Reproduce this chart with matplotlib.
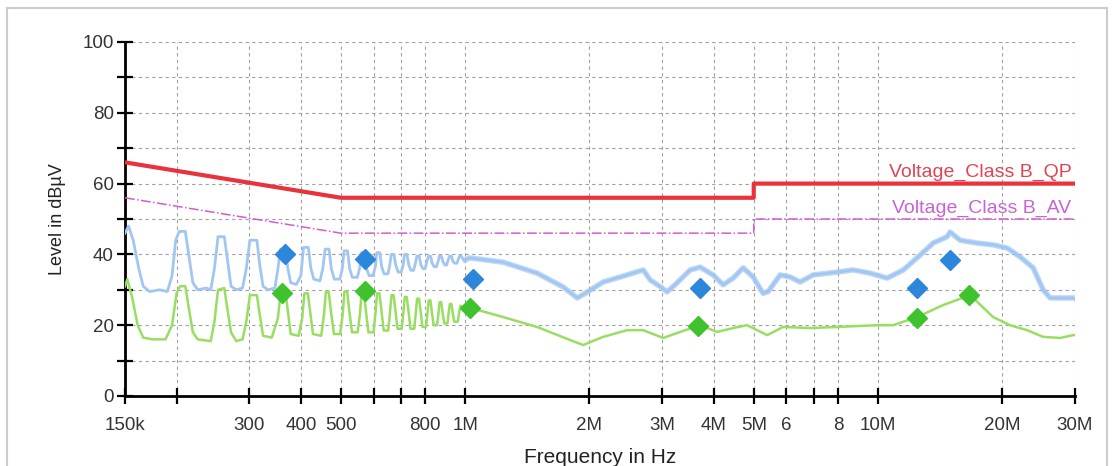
import numpy as np
import matplotlib.pyplot as plt
from matplotlib.patches import Rectangle
from matplotlib.ticker import FixedLocator, NullLocator

plt.rcParams['font.family'] = ['Liberation Sans', 'DejaVu Sans']

# limit lines (Hz, dBuV)
qp_f = [150e3, 500e3, 5e6, 5e6, 30e6]
qp_db = [66, 56, 56, 60, 60]
av_f = [150e3, 500e3, 5e6, 5e6, 30e6]
av_db = [56, 46, 46, 50, 50]

# peak trace (kHz, dBuV)
blue_f = [150, 153, 157, 162, 166, 172, 182, 190, 195, 199, 203, 210, 214, 219, 225,
          236, 242, 247, 252, 261, 266, 271, 279, 289, 295, 301, 313, 318, 324, 333,
          346, 352, 357, 367, 372, 378, 390, 400, 406, 417, 423, 430, 445, 452, 458,
          468, 474, 482, 497, 504, 509, 519, 525, 533, 548, 555, 560, 570, 577, 585,
          598, 606, 611, 621, 628, 636, 650, 657, 662, 672, 679, 688, 700, 708, 713,
          723, 730, 739, 750, 758, 764, 774, 781, 790, 800, 808, 815, 825, 832, 842,
          852, 860, 866, 876, 883, 893, 902, 910, 917, 927, 934, 944, 955, 962, 968,
          978, 990, 1000, 1028, 1236, 1494, 1727, 1868, 1953, 2159, 2374, 2699, 2806,
          3000, 3085, 3262, 3507, 3708, 3987, 4216, 4458, 4713, 4984, 5269, 5418, 5794,
          6126, 6477, 6965, 7962, 8705, 9571, 10520, 11510, 12650, 13600, 14700, 14950,
          15810, 17380, 19000, 20550, 22090, 23760, 25120, 26120, 29690, 30000]
blue_db = [46, 48, 44, 36, 31, 29.5, 30, 29.5, 34, 44, 46.5, 46.5, 40, 32, 30,
           30.5, 30, 36, 45, 45, 38, 31, 30, 30.5, 36, 44, 44, 37, 31, 30,
           30.5, 36, 41.5, 41.5, 36, 32, 31.5, 34, 42, 42, 36, 33, 32.5, 36, 41.5,
           41.5, 36, 33, 33, 36, 41, 41, 36, 33.5, 33.5, 36, 40.5, 40.5, 36, 34,
           34, 36.5, 40.5, 40.5, 36.5, 34.5, 34.5, 37, 40, 40, 37, 35, 35, 37, 40,
           40, 37, 35.5, 35.5, 37.5, 39.5, 39.5, 37, 36, 36, 38, 39.5, 39.5, 37.5, 36.5,
           36.5, 38, 39.5, 39.5, 38, 37, 37, 38.5, 39.5, 39.5, 38, 37.5, 37.5, 38.5, 39.5,
           39.5, 38.5, 38.5, 39, 37.8, 34.7, 30.8, 27.7, 29, 32.2, 33.6, 35.6, 32.8,
           30.5, 29.4, 32, 35.6, 36.4, 34.2, 31.4, 33.3, 36.2, 33.6, 29, 29.5, 34.2,
           33.6, 32.2, 34.2, 35, 35.6, 34.7, 33.3, 35.6, 39.8, 43.2, 45, 46.3,
           44, 43.2, 42.7, 41.8, 39.3, 36.2, 30, 27.7, 27.7, 27.5]

# average trace (kHz, dBuV)
green_f = [150, 152, 156, 161, 166, 175, 188, 195, 200, 204, 210, 214, 219, 225, 242,
           247, 252, 261, 266, 271, 279, 289, 295, 301, 313, 318, 324, 340, 352, 357,
           367, 372, 378, 395, 403, 408, 416, 421, 428, 448, 455, 460, 467, 473, 481,
           498, 505, 510, 518, 524, 532, 549, 556, 561, 569, 575, 583, 600, 607, 612,
           620, 627, 635, 651, 658, 663, 671, 678, 686, 702, 709, 714, 722, 729, 737,
           753, 760, 765, 773, 780, 788, 804, 811, 816, 824, 831, 839, 855, 862, 867,
           875, 882, 890, 906, 913, 918, 926, 933, 941, 960, 968, 975, 990, 1028, 1236,
           1494, 1796, 1931, 2159, 2468, 2699, 3017, 3317, 3708, 4077, 4458, 4820, 5096,
           5388, 5892, 6849, 7962, 9952, 10880, 12440, 14380, 16720, 19000, 20890,
           22970, 25120, 27620, 29690, 30000]
green_db = [31, 33, 28, 20, 16.5, 16, 16, 20, 29, 31, 31, 25, 18, 16, 15.5,
            21, 30, 30.5, 24, 18, 15.5, 16, 21, 28.5, 28.5, 23, 17, 16.5, 22, 29,
            29.5, 24, 17.5, 17, 22, 29, 29, 24, 17.5, 17, 23, 29.5, 29.5, 24, 17.5,
            17.5, 23, 29.5, 29.5, 24, 18, 18, 23, 29, 29, 24, 18, 18, 24, 29,
            29, 24, 18.5, 18.5, 24, 28.5, 28.5, 24, 19, 19, 24, 28, 28, 24, 19,
            19, 24, 27.5, 27.5, 24, 19.5, 19.5, 24, 27, 27, 23.5, 20, 20, 23.5, 26.5,
            26.5, 23.5, 20.5, 20.5, 24, 26, 26, 23.5, 21, 21, 24, 25.5, 25, 24.9, 22.3,
            19.5, 15.8, 14.4, 16.7, 18.6, 18.6, 16.4, 18.1, 20, 18.1, 19.2, 20, 18.6,
            17.2, 19.5, 19.2, 19.5, 20, 20, 22.3, 25.7, 28.5, 22.3, 20,
            18.6, 16.7, 16.4, 17.2, 17.2]

# final measurement markers
qp_mark_f = [366e3, 572e3, 1.044e6, 3.71e6, 12.4e6, 14.9e6]
qp_mark_db = [40.2, 38.7, 33.0, 30.5, 30.5, 38.4]
av_mark_f = [360e3, 572e3, 1.03e6, 3.66e6, 12.4e6, 16.6e6]
av_mark_db = [29.1, 29.7, 24.9, 19.8, 22.0, 28.5]

tick_f = [150e3, 200e3, 300e3, 400e3, 500e3, 600e3, 700e3, 800e3, 1e6, 2e6, 3e6,
          4e6, 5e6, 6e6, 7e6, 8e6, 10e6, 20e6, 30e6]
tick_lbl = ['150k', '', '300', '400', '500', '', '', '800', '1M', '2M', '3M',
            '4M', '5M', '6', '', '8', '10M', '20M', '30M']

fig = plt.figure(figsize=(11.15, 4.66), dpi=100)
fig.patches.append(Rectangle((7 / 1115, -0.05), 1100 / 1115, 1.05 - 8 / 466,
                             transform=fig.transFigure, fill=False,
                             edgecolor='#cccccc', linewidth=1.5))
ax = fig.add_axes([125 / 1115, 1 - 396 / 466, 950 / 1115, 354 / 466])

bf = np.array(blue_f) * 1e3
bd = np.array(blue_db)
hi = bf >= 1e6
ax.plot(bf, bd, color='#a2c6f2', lw=2.0, zorder=3)
# the noisy part above 1 MHz looks thicker
ax.plot(bf[hi], bd[hi], color='#a2c6f2', lw=4.0, alpha=0.7, zorder=3)
ax.plot(np.array(green_f) * 1e3, green_db, color='#98de62', lw=1.8, zorder=3)
ax.plot(qp_f, qp_db, color='#e8323c', lw=3, zorder=4)
ax.plot(av_f, av_db, color='#d45ad4', lw=1.1, ls='-.', zorder=4)
ax.plot(qp_mark_f, qp_mark_db, 'D', color='#2c86da', ms=10, ls='none', zorder=5)
ax.plot(av_mark_f, av_mark_db, 'D', color='#3fc22e', ms=10, ls='none', zorder=5)

ax.text(29.4e6, 60.6, 'Voltage_Class B_QP', color='#e04452', fontsize=14,
        ha='right', va='bottom')
ax.text(29.4e6, 50.6, 'Voltage_Class B_AV', color='#c862d8', fontsize=14,
        ha='right', va='bottom')

ax.set_xscale('log')
ax.set_xlim(150e3, 30e6)
ax.set_ylim(0, 100)
ax.xaxis.set_major_locator(FixedLocator(tick_f))
ax.xaxis.set_minor_locator(NullLocator())
ax.set_xticklabels(tick_lbl)
ax.set_yticks([0, 20, 40, 60, 80, 100])
ax.set_yticks([10, 30, 50, 70, 90], minor=True)

for s in ['top', 'right']:
    ax.spines[s].set_visible(False)
for s in ['left', 'bottom']:
    ax.spines[s].set_linewidth(2)
ax.tick_params(which='both', direction='inout', length=12, width=1.6,
               labelsize=13.5, labelcolor='#333333', pad=2)
ax.tick_params(axis='x', pad=9)
ax.grid(True, which='both', color='#a0a0a0', ls=(0, (3, 3)), lw=0.8)

ax.set_xlabel('Frequency in Hz', fontsize=15, color='#222222', labelpad=10)
ax.set_ylabel('Level in dBµV', fontsize=13, color='#222222', labelpad=12)

fig.savefig('out.png', dpi=100)
